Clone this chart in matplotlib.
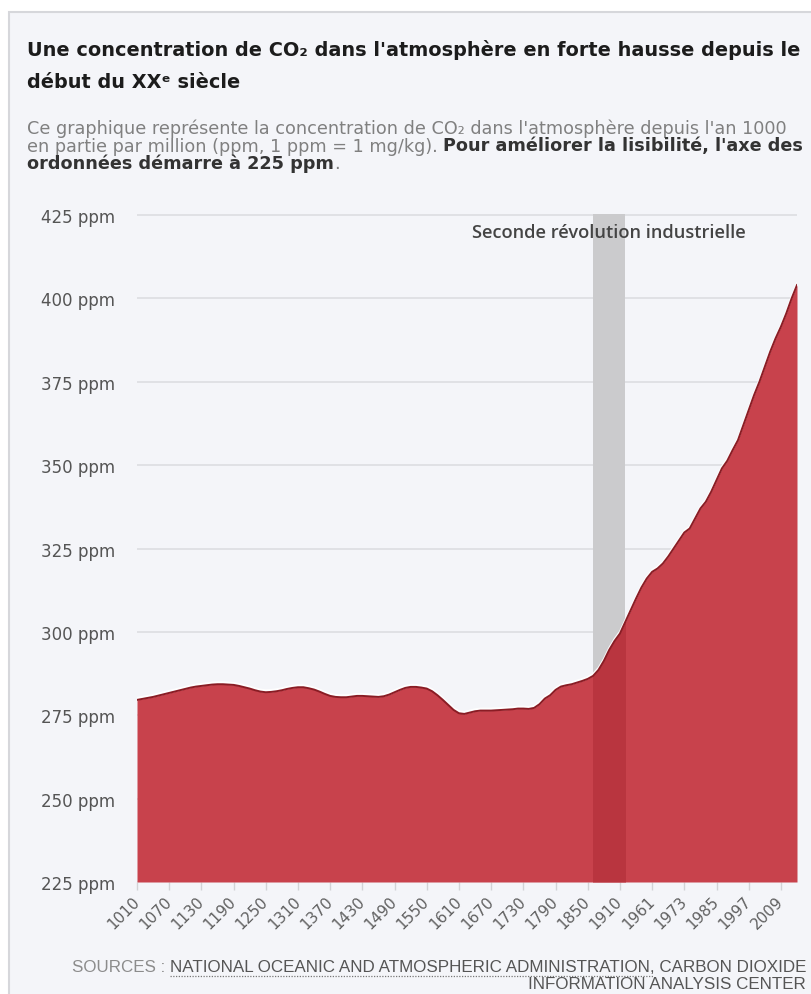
import matplotlib
matplotlib.use('Agg')
import numpy as np
import matplotlib.pyplot as plt
from matplotlib.patches import Rectangle
from matplotlib.lines import Line2D
import matplotlib.patheffects as pe
import matplotlib.font_manager as fm

# ---------------- data ----------------
years = ([1010 + 10 * i for i in range(95)] + [1960] +
         [1961 + 2 * i for i in range(28)])
co2 = [279.6, 279.9, 280.2, 280.5, 280.9, 281.3, 281.7, 282.1, 282.5, 282.9,
       283.3, 283.6, 283.8, 284.0, 284.2, 284.3, 284.3, 284.2, 284.1, 283.8,
       283.4, 283.0, 282.5, 282.1, 281.9, 282.0, 282.2, 282.5, 282.9, 283.2,
       283.4, 283.4, 283.1, 282.7, 282.1, 281.4, 280.8, 280.5, 280.4, 280.4,
       280.6, 280.8, 280.8, 280.7, 280.6, 280.5, 280.7, 281.2, 281.9, 282.6,
       283.2, 283.5, 283.5, 283.3, 283.0, 282.2, 281.0, 279.6, 278.1, 276.6,
       275.6, 275.4, 275.8, 276.2, 276.4, 276.4, 276.4, 276.5, 276.6, 276.7,
       276.8, 277.0, 277.0, 276.9, 277.2, 278.3, 280.0, 281.0, 282.6, 283.6,
       284.0, 284.3, 284.8, 285.3, 285.9, 286.8, 288.6, 291.3, 294.6, 297.3,
       299.5, 303.0, 306.5, 310.0, 313.3, 316.0, 318.0, 319.0, 320.5, 322.6,
       325.0, 327.4, 329.8, 331.0, 334.0, 337.0, 339.0, 342.0, 345.5, 349.0,
       351.3, 354.5, 357.5, 362.0, 366.5, 371.0, 375.0, 379.5, 384.0, 388.0,
       391.5, 395.5, 400.0, 404.0]
tick_years = [1010, 1070, 1130, 1190, 1250, 1310, 1370, 1430, 1490, 1550,
              1610, 1670, 1730, 1790, 1850, 1910, 1961, 1973, 1985, 1997, 2009]
y_ticks = [225, 250, 275, 300, 325, 350, 375, 400, 425]
y_labels = [f"{v} ppm" for v in y_ticks]
band_years = [1860, 1920]
band_label = "Seconde révolution industrielle"

title_lines = ["Une concentration de CO₂ dans l'atmosphère en forte hausse depuis le",
               "début du XXᵉ siècle"]
sub_line1 = "Ce graphique représente la concentration de CO₂ dans l'atmosphère depuis l'an 1000"
sub_line2a = "en partie par million (ppm, 1 ppm = 1 mg/kg)."
sub_line2b = "Pour améliorer la lisibilité, l'axe des"
sub_line3a = "ordonnées démarre à 225 ppm"
sub_line3b = "."
src_prefix = "SOURCES :"
src_line1 = "NATIONAL OCEANIC AND ATMOSPHERIC ADMINISTRATION, CARBON DIOXIDE"
src_under = "NATIONAL OCEANIC AND ATMOSPHERIC ADMINISTRATION,"
src_line2 = "INFORMATION ANALYSIS CENTER"

# ---------------- style ----------------
W, H = 812, 995
BG = '#f4f5f9'
RED = '#c8424c'
RED_DARK = '#b9353f'
LINE = '#8a1c24'
GRID = '#dcdde2'
SUBF = ['DejaVu Sans']

plt.rcParams['font.family'] = ['DejaVu Sans']

fig = plt.figure(figsize=(W / 100, H / 100), dpi=100)
fig.patch.set_facecolor('white')
fig.patches.append(Rectangle((9 / W, -0.02), 1.1, 1 - 13 / H + 0.02,
                             transform=fig.transFigure, facecolor=BG,
                             edgecolor='#d6d7db', lw=1.5, zorder=-5))

renderer = fig.canvas.get_renderer()


def fy(y):
    return 1 - y / H


def width_px(t):
    return t.get_window_extent(renderer).width


def fit(t, target):
    t.set_fontsize(t.get_fontsize() * target / width_px(t))
    return t.get_fontsize()


# ---------------- axes ----------------
ax = fig.add_axes([137 / W, 1 - 883 / H, (797 - 137) / W, (883 - 215) / H], zorder=1)
ax.patch.set_alpha(0)
x = np.arange(len(years))
b0, b1 = years.index(band_years[0]), years.index(band_years[1])

ax.axvspan(b0, b1, color='#cbcbcd', lw=0, zorder=1)
ax.fill_between(x, y_ticks[0], co2, color=RED, lw=0, zorder=2)
dark = ax.fill_between(x, y_ticks[0], co2, color=RED_DARK, lw=0, zorder=2.5)
clip = Rectangle((b0, y_ticks[0]), b1 - b0, y_ticks[-1] - y_ticks[0], transform=ax.transData)
dark.set_clip_path(clip)
ax.plot(x, co2, color=LINE, lw=1.4, zorder=4, solid_joinstyle='round',
        path_effects=[pe.SimpleLineShadow(offset=(0, 1.4), shadow_color='white',
                                          alpha=0.95, rho=1.0), pe.Normal()])

ax.set_xlim(0, len(years) - 1)
ax.set_ylim(y_ticks[0], y_ticks[-1] + 0.3)
ax.set_yticks(y_ticks)
ax.set_yticklabels(y_labels)
ax.yaxis.grid(True, color=GRID, lw=1.2)
ax.set_axisbelow(True)
for s in ax.spines.values():
    s.set_visible(False)
ax.tick_params(axis='y', length=0, pad=16, labelcolor='#555555', labelsize=12)
ax.set_xticks([years.index(t) for t in tick_years])
ax.set_xticklabels([str(t) for t in tick_years], rotation=45, ha='right',
                   va='center', rotation_mode='anchor')
ax.tick_params(axis='x', length=6, width=1, color='#d2d3d6', pad=6,
               labelcolor='#606060', labelsize=11)

ta = ax.text((b0 + b1) / 2, 420, band_label, ha='center', va='center',
             color='#444444', fontfamily=['Open Sans', 'DejaVu Sans'],
             fontweight='semibold', fontsize=11, zorder=5)
fit(ta, 273)

# ---------------- title ----------------
t1 = fig.text(27 / W, fy(50), title_lines[0], fontweight='bold', color='#1c1c1c',
              fontsize=13, va='center', ha='left')
ts = fit(t1, 764)
fig.text(27 / W, fy(82), title_lines[1], fontweight='bold', color='#1c1c1c',
         fontsize=ts, va='center', ha='left')

# ---------------- subtitle ----------------
GREY = '#808080'
DARK = '#333333'
s1 = fig.text(27 / W, fy(129), sub_line1, color=GREY, fontsize=11, va='center',
              ha='left', fontfamily=SUBF)
# size chosen so that the mixed (wider) second line fits 27 -> 798 px
probe_a = fig.text(0, 0, sub_line2a, fontsize=11, fontfamily=SUBF)
probe_b = fig.text(0, 0, sub_line2b, fontsize=11, fontweight='bold', fontfamily=SUBF)
w2 = width_px(probe_a) + width_px(probe_b) + 0.318 * 11 * 100 / 72
probe_a.remove()
probe_b.remove()
ss = 11 * 771 / w2
s1.set_fontsize(ss)
space = 0.318 * ss * 100 / 72


def segs(items, x0, y):
    xx = x0
    for txt, col, wt, gap in items:
        xx += gap
        t = fig.text(xx / W, fy(y), txt, color=col, fontweight=wt, fontsize=ss,
                     va='center', ha='left', fontfamily=SUBF)
        xx = t.get_window_extent(renderer).x1


segs([(sub_line2a, GREY, 'normal', 0), (sub_line2b, DARK, 'bold', space)], 27, 146.5)
segs([(sub_line3a, DARK, 'bold', 0), (sub_line3b, GREY, 'normal', 0)], 27, 164)

# ---------------- sources ----------------
try:
    fm.findfont('Liberation Sans Narrow', fallback_to_default=False)
    SRCF = ['Liberation Sans Narrow', 'DejaVu Sans']
except Exception:
    SRCF = ['Liberation Sans', 'DejaVu Sans']

r1 = fig.text(806 / W, fy(968), src_line1, color='#555555', fontfamily=SRCF,
              fontsize=12, va='center', ha='right')
p1 = fig.text(0, fy(968), src_prefix, color='#8c8c8c', fontfamily=SRCF,
              fontsize=12, va='center', ha='right')
gap12 = 0.278 * 12 * 100 / 72
tot = width_px(r1) + width_px(p1) + gap12
scale = 731 / tot
for t in (r1, p1):
    t.set_fontsize(12 * scale)
fsz = 12 * scale
x_start = r1.get_window_extent(renderer).x0
p1.set_position(((x_start - gap12 * scale) / W, fy(968)))
fig.text(806 / W, fy(985), src_line2, color='#555555', fontfamily=SRCF,
         fontsize=fsz, va='center', ha='right')
tmp = fig.text(0, 0, src_under, fontfamily=SRCF, fontsize=fsz)
uw = width_px(tmp)
tmp.remove()
fig.lines.append(Line2D([x_start / W, (x_start + uw) / W], [fy(977), fy(977)],
                        transform=fig.transFigure, color='#777777', lw=0.9,
                        linestyle=(0, (1, 1.2))))

fig.savefig('out.png', dpi=100, facecolor=fig.get_facecolor())
